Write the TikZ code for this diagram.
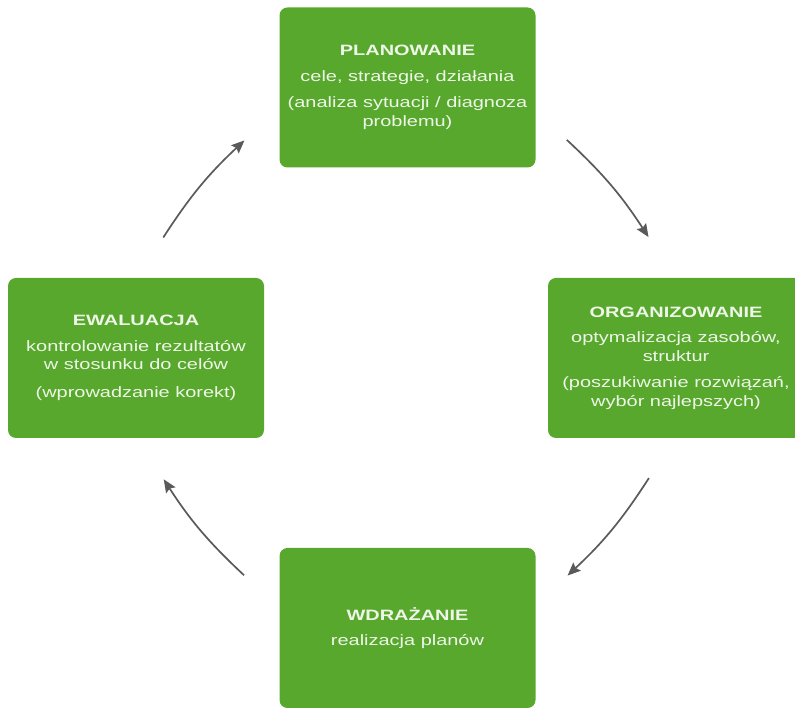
\documentclass[tikz,border=0pt]{standalone}
\usepackage{fontspec}
\setmainfont{Liberation Sans}[FakeStretch=1.33]
\usetikzlibrary{positioning,arrows.meta,calc}
\definecolor{boxgreen}{RGB}{88,168,45}
\definecolor{boxtext}{RGB}{238,246,232}
\definecolor{arrowgrey}{RGB}{90,90,90}

\begin{document}
\begin{tikzpicture}[x=1pt, y=1pt, on grid]
\tikzstyle{box}=[rectangle, rounded corners=8pt, fill=boxgreen, text=boxtext,
  minimum width=256pt, minimum height=160pt, align=center,
  font=\fontsize{15}{18.5}\selectfont]
\tikzstyle{arr}=[-{Stealth[length=13pt,width=11pt,inset=2pt]}, draw=arrowgrey,
  line width=1.7pt, bend left=7]
\useasboundingbox (0,0) rectangle (795,711);
\node[box] (plan) at (407.5,623.5)
  {\textbf{PLANOWANIE}\\[7pt] cele, strategie, działania\\[8pt]
   (analiza sytuacji / diagnoza\\ problemu)};
\node[box] (org)  [below right=270.5pt and 268.5pt of plan]
  {\textbf{ORGANIZOWANIE}\\[7pt] optymalizacja zasobów,\\ struktur\\[8pt]
   (poszukiwanie rozwiązań,\\ wybór najlepszych)};
\node[box] (ewal) [below left=270.5pt and 271.5pt of plan]
  {\textbf{EWALUACJA}\\[7pt] kontrolowanie rezultatów\\ w stosunku do celów\\[9pt]
   (wprowadzanie korekt)};
\node[box] (wdr)  [below=540.5pt of plan]
  {\textbf{WDRAŻANIE}\\[7pt] realizacja planów};
% arrows lie on one circle round the middle
\coordinate (mid) at ($(ewal)!0.5!(org)$);
\coordinate (po1) at ($(mid)+(53.6:271pt)$);
\coordinate (po2) at ($(mid)+(26.5:271pt)$);
\coordinate (ow1) at ($(mid)+(-26.3:271pt)$);
\coordinate (ow2) at ($(mid)+(-53.4:271pt)$);
\coordinate (we1) at ($(mid)+(233.3:271pt)$);
\coordinate (we2) at ($(mid)+(206.6:271pt)$);
\coordinate (ep1) at ($(mid)+(153.6:271pt)$);
\coordinate (ep2) at ($(mid)+(126.6:271pt)$);
\path
(po1) edge[arr] (po2)
(ow1) edge[arr] (ow2)
(we1) edge[arr] (we2)
(ep1) edge[arr] (ep2);
\end{tikzpicture}
\end{document}
